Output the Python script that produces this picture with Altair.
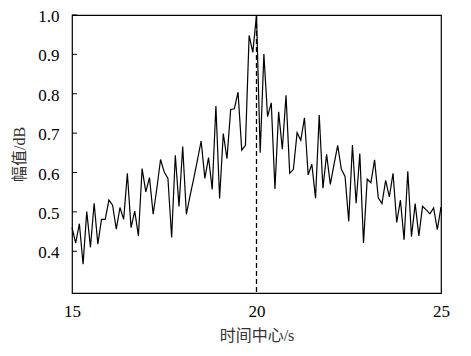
import altair as alt
import pandas as pd

# time centers 15.0 .. 25.0 step 0.1
t_values = [round(15 + 0.1 * i, 1) for i in range(101)]
amplitude = [
    0.46, 0.421, 0.47, 0.367, 0.501, 0.41, 0.522, 0.418, 0.481, 0.481,
    0.53, 0.517, 0.456, 0.511, 0.481, 0.598, 0.46, 0.502, 0.439, 0.61,
    0.551, 0.587, 0.494, 0.56, 0.633, 0.601, 0.585, 0.435, 0.644, 0.514,
    0.666, 0.494, 0.541, 0.585, 0.632, 0.68, 0.585, 0.638, 0.557, 0.769,
    0.534, 0.699, 0.635, 0.760, 0.762, 0.804, 0.657, 0.669, 0.948, 0.905,
    1.0, 0.65, 0.901, 0.742, 0.777, 0.558, 0.754, 0.659, 0.796, 0.598,
    0.608, 0.701, 0.682, 0.739, 0.594, 0.621, 0.535, 0.746, 0.56, 0.646,
    0.57, 0.62, 0.669, 0.608, 0.59, 0.476, 0.67, 0.522, 0.648, 0.421,
    0.583, 0.574, 0.632, 0.536, 0.521, 0.58, 0.538, 0.598, 0.473, 0.53,
    0.429, 0.603, 0.437, 0.521, 0.439, 0.514, 0.505, 0.495, 0.51, 0.455,
    0.512,
]
y_ticks = [0.4, 0.5, 0.6, 0.7, 0.8, 0.9, 1.0]
x_ticks = [15, 20, 25]
marker_x = 20

df = pd.DataFrame({"t": t_values, "a": amplitude})
ticks_df = pd.DataFrame({"v": y_ticks})

x_scale = alt.Scale(domain=[15, 25], nice=False)
y_scale = alt.Scale(domain=[0.294, 1.0], nice=False, zero=False)

serif = "Liberation Serif"
cjk = "Liberation Serif, Noto Sans CJK SC"

axis_common = dict(
    ticks=False, tickSize=0, grid=False, domain=False,
    labelFlush=False, labelOverlap=False,
    labelFont=serif, labelFontSize=17, labelColor="black",
    titleFont=cjk, titleFontSize=16, titleColor="#333333",
    titleFontWeight="normal",
)

line = alt.Chart(df).mark_line(color="black", strokeWidth=1.2).encode(
    x=alt.X("t:Q", scale=x_scale,
            axis=alt.Axis(values=x_ticks, format="d", title="时间中心/s",
                          labelPadding=10, titlePadding=8, **axis_common)),
    y=alt.Y("a:Q", scale=y_scale,
            axis=alt.Axis(values=y_ticks, format=".1f", title="幅值/dB",
                          labelPadding=13, labelOffset=1.5,
                          titlePadding=10, **axis_common)),
)

vline = alt.Chart(pd.DataFrame({"x": [marker_x]})).mark_rule(
    color="black", strokeDash=[5, 3], strokeWidth=1.3
).encode(x=alt.X("x:Q", scale=x_scale))

yticks = alt.Chart(ticks_df).mark_rule(color="black", strokeWidth=1).encode(
    y=alt.Y("v:Q", scale=y_scale),
    x=alt.value(0),
    x2=alt.value(5),
)

chart = alt.layer(line, vline, yticks).properties(
    width=369,
    height=278,
    background="white",
    autosize=alt.AutoSizeParams(type="none"),
    padding={"left": 64, "top": 7, "right": 22, "bottom": 55},
).configure_view(
    stroke="black", strokeWidth=1.2
)

chart.save("out.html", embed_options={"renderer": "svg", "actions": False})
